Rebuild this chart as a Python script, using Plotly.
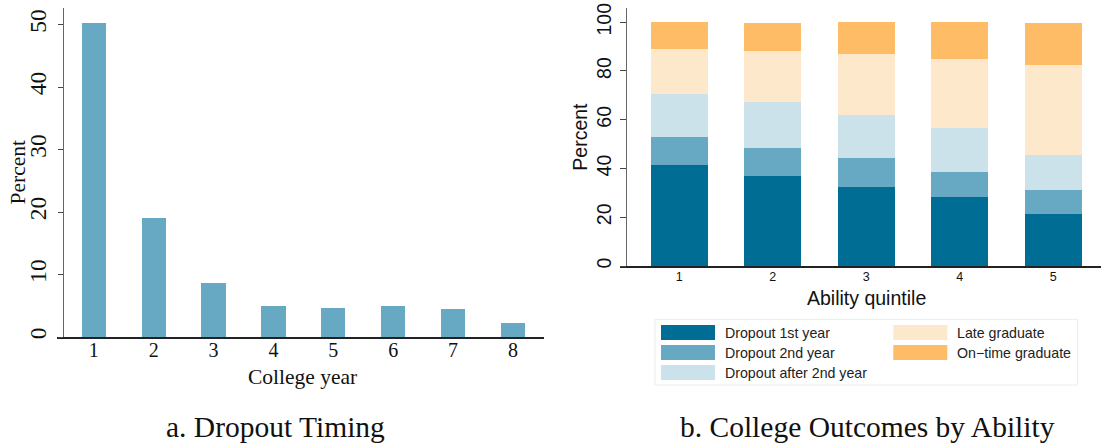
import plotly.graph_objects as go

# ---------------- data ----------------
college_years = [1, 2, 3, 4, 5, 6, 7, 8]
dropout_pct = [50.3, 19.1, 8.7, 5.0, 4.7, 5.0, 4.5, 2.3]

quintiles = [1, 2, 3, 4, 5]
outcome_names = ["Dropout 1st year", "Dropout 2nd year", "Dropout after 2nd year",
                 "Late graduate", "On\u2212time graduate"]
dropout_1st = [41.6, 37.1, 32.6, 28.5, 21.2]
dropout_2nd = [11.5, 11.5, 11.5, 10.2, 9.8]
dropout_after = [17.6, 18.8, 18.0, 18.1, 14.7]
late_grad = [18.4, 20.9, 25.0, 28.1, 36.8]
ontime_grad = [10.9, 11.4, 12.9, 15.1, 17.2]
outcome_values = [dropout_1st, dropout_2nd, dropout_after, late_grad, ontime_grad]

left_yticks = [0, 10, 20, 30, 40, 50]
right_yticks = [0, 20, 40, 60, 80, 100]

# ---------------- style ----------------
W, H = 1101, 443
def px(x): return x / W
def py(y): return 1 - y / H

colors = ["#006E94", "#67A8C2", "#CCE2EA", "#FEE8CB", "#FEBC66"]
left_color = "#67A8C2"
serif = "Liberation Serif"
sans = "Liberation Sans"
txt = "#111111"

fig = go.Figure()

fig.add_trace(go.Bar(x=college_years, y=dropout_pct, marker_color=left_color,
                     marker_line_width=0, width=0.405, xaxis="x", yaxis="y",
                     showlegend=False, hoverinfo="skip"))

for name, vals, c in zip(outcome_names, outcome_values, colors):
    fig.add_trace(go.Bar(x=quintiles, y=vals, name=name, marker_color=c,
                         marker_line_width=0, width=0.61, xaxis="x2", yaxis="y2",
                         showlegend=False, hoverinfo="skip"))

fig.update_layout(
    width=W, height=H, margin=dict(l=0, r=0, t=0, b=0, autoexpand=False),
    paper_bgcolor="white", plot_bgcolor="white", barmode="stack",
    xaxis=dict(domain=[px(56.7), px(543.6)], range=[0.381, 8.511],
               anchor="y", tickmode="array", tickvals=college_years,
               ticks="", showline=True, linecolor="#222222", linewidth=1.5,
               showgrid=False, zeroline=False, automargin=False,
               ticklabelstandoff=-6,
               tickfont=dict(family=serif, size=20, color=txt)),
    yaxis=dict(domain=[py(337), py(8.3)], range=[0, 52.6], anchor="free",
               position=px(62.5), tickmode="array", tickvals=left_yticks,
               tickangle=-90, ticks="outside", ticklen=5, tickcolor="#444444",
               showline=True, linecolor="#666666", linewidth=1,
               showgrid=False, zeroline=False, ticklabelstandoff=2,
               automargin=False,
               tickfont=dict(family=serif, size=23.5, color=txt)),
    xaxis2=dict(domain=[px(620), px(1100.7)], range=[0.366, 5.507],
                anchor="y2", tickmode="array", tickvals=quintiles,
                ticks="", showline=True, linecolor="#222222", linewidth=1.5,
                showgrid=False, zeroline=False, automargin=False,
                ticklabelstandoff=-2,
                tickfont=dict(family=sans, size=12.5, color=txt)),
    yaxis2=dict(domain=[py(266), py(8.3)], range=[0, 105.7], anchor="free",
                position=px(625.7), tickmode="array", tickvals=right_yticks,
                tickangle=-90, ticks="outside", ticklen=6, tickcolor="#444444",
                showline=True, linecolor="#666666", linewidth=1,
                showgrid=False, zeroline=False, ticklabelstandoff=1,
                automargin=False,
                tickfont=dict(family=sans, size=19.5, color=txt)),
)

ann = []
# axis titles
ann.append(dict(text="Percent", x=px(17), y=py(172.5), textangle=-90,
                font=dict(family=serif, size=21.5, color=txt)))
ann.append(dict(text="College year", x=px(302.8), y=py(377),
                font=dict(family=serif, size=21.5, color=txt)))
ann.append(dict(text="Percent", x=px(580), y=py(136.7), textangle=-90,
                font=dict(family=sans, size=19.5, color=txt)))
ann.append(dict(text="Ability quintile", x=px(866.5), y=py(298),
                font=dict(family=sans, size=19.5, color=txt)))
# captions
ann.append(dict(text="a. Dropout Timing", x=px(275.3), y=py(427),
                font=dict(family=serif, size=29.5, color=txt)))
ann.append(dict(text="b. College Outcomes by Ability", x=px(867), y=py(427),
                font=dict(family=serif, size=29.5, color=txt)))

shapes = []
# legend box
shapes.append(dict(type="rect", xref="paper", yref="paper",
                   x0=px(655), x1=px(1077.7), y0=py(385), y1=py(319.3),
                   line=dict(color="#E6EEEE", width=1), fillcolor="white"))
col_x = [661, 893.3]
row_y = [332.5, 352.5, 372.5]
for i, (name, c) in enumerate(zip(outcome_names, colors)):
    col = 0 if i < 3 else 1
    row = i if i < 3 else i - 3
    x0 = col_x[col]
    yc = row_y[row]
    shapes.append(dict(type="rect", xref="paper", yref="paper",
                       x0=px(x0), x1=px(x0 + 54), y0=py(yc + 7.5), y1=py(yc - 7.5),
                       line=dict(width=0), fillcolor=c))
    ann.append(dict(text=name, x=px(x0 + 62), y=py(yc), xanchor="left",
                    font=dict(family=sans, size=14.2, color="#222222")))

for a in ann:
    a.setdefault("xref", "paper")
    a.setdefault("yref", "paper")
    a.setdefault("showarrow", False)
    a.setdefault("xanchor", "center")
    a.setdefault("yanchor", "middle")

fig.update_layout(annotations=ann, shapes=shapes)
fig.write_html("out.html",
               config={"displayModeBar": False},
               post_script="document.body.style.margin='0px';"
                           "document.body.style.overflow='hidden';")
